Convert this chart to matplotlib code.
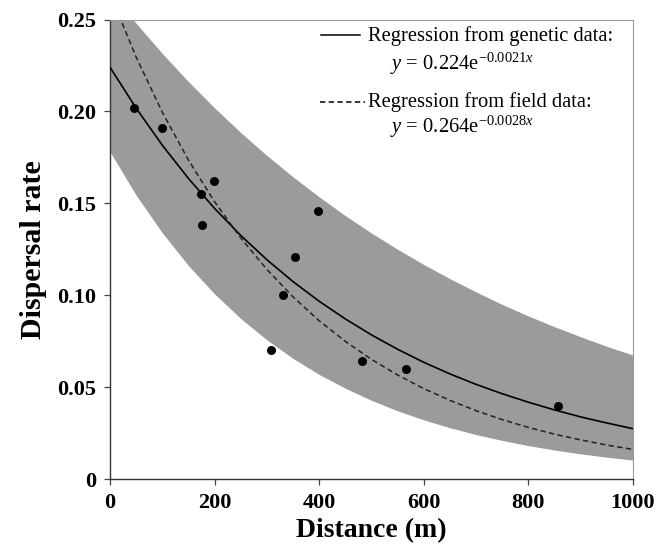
import numpy as np
import matplotlib
matplotlib.use("Agg")
import matplotlib.pyplot as plt

plt.rcParams['font.family'] = ['Liberation Serif', 'DejaVu Serif']
plt.rcParams['mathtext.fontset'] = 'custom'
plt.rcParams['mathtext.rm'] = 'Liberation Serif'
plt.rcParams['mathtext.it'] = 'Liberation Serif:italic'

# observed dispersal rates
dist_obs = [46, 100, 174, 175, 199, 307, 330, 353, 398, 482, 566, 857]
rate_obs = [0.202, 0.191, 0.155, 0.138, 0.162, 0.070, 0.100, 0.121, 0.146, 0.064, 0.060, 0.040]

# curves every 50 m
dist_grid = [0, 50, 100, 150, 200, 250, 300, 350, 400, 450, 500,
             550, 600, 650, 700, 750, 800, 850, 900, 950, 1000]
genetic_fit = [0.2240, 0.2017, 0.1816, 0.1635, 0.1472, 0.1325, 0.1193, 0.1074, 0.0967, 0.0871, 0.0784,
               0.0706, 0.0635, 0.0572, 0.0515, 0.0464, 0.0418, 0.0376, 0.0338, 0.0305, 0.0274]
field_fit = [0.2640, 0.2295, 0.1995, 0.1735, 0.1508, 0.1311, 0.1140, 0.0991, 0.0861, 0.0749, 0.0651,
             0.0566, 0.0492, 0.0428, 0.0372, 0.0323, 0.0281, 0.0244, 0.0213, 0.0185, 0.0161]
band_upper = [0.2655, 0.2479, 0.2315, 0.2162, 0.2019, 0.1885, 0.1760, 0.1644, 0.1535, 0.1433, 0.1338,
              0.1250, 0.1167, 0.1090, 0.1018, 0.0950, 0.0887, 0.0829, 0.0774, 0.0722, 0.0675]
band_lower = [0.1780, 0.1544, 0.1339, 0.1161, 0.1007, 0.0873, 0.0757, 0.0656, 0.0569, 0.0494, 0.0428,
              0.0371, 0.0322, 0.0279, 0.0242, 0.0210, 0.0182, 0.0158, 0.0137, 0.0119, 0.0103]

x_ticks = [0, 200, 400, 600, 800, 1000]
y_ticks = [0, 0.05, 0.10, 0.15, 0.20, 0.25]
y_tick_labels = ['0', '0.05', '0.10', '0.15', '0.20', '0.25']

fig = plt.figure(figsize=(6.67, 5.5), dpi=100)
ax = fig.add_axes([0.165, 0.129, 0.784, 0.8355])

ax.fill_between(dist_grid, band_lower, band_upper, color='#9b9b9b', lw=0, zorder=1)
ax.plot(dist_grid, genetic_fit, color='black', lw=1.2, zorder=3)
ax.plot(dist_grid, field_fit, color='#222222', lw=1.1, ls=(0, (3.5, 2.2)), zorder=3)
ax.scatter(dist_obs, rate_obs, s=42, color='black', zorder=4, lw=0)

ax.set_xlim(0, 1000)
ax.set_ylim(0, 0.25)
ax.set_xticks(x_ticks)
ax.set_yticks(y_ticks)
ax.set_yticklabels(y_tick_labels)
ax.tick_params(direction='out', length=4, width=0.9, labelsize=16, pad=6, color='#444444')
for lab in ax.get_xticklabels() + ax.get_yticklabels():
    lab.set_fontweight('bold')

for side in ['left', 'bottom']:
    ax.spines[side].set_color('#333333')
    ax.spines[side].set_linewidth(1.0)
for side in ['top', 'right']:
    ax.spines[side].set_color('#9a9a9a')
    ax.spines[side].set_linewidth(0.8)

ax.set_xlabel('Distance (m)', fontsize=20, fontweight='bold', labelpad=4)
ax.set_ylabel('Dispersal rate', fontsize=21.5, fontweight='bold', labelpad=7)

# legend drawn as text, like the original
ax.plot([0.404, 0.478], [0.966, 0.966], color='black', lw=1.1, transform=ax.transAxes)
ax.text(0.494, 0.954, 'Regression from genetic data:', fontsize=14.8,
        transform=ax.transAxes, va='baseline', ha='left')
ax.text(0.535, 0.890, r'$y$ = 0.224e$^{\mathrm{-0.0021}x}$', fontsize=14.8,
        transform=ax.transAxes, va='baseline', ha='left')
ax.plot([0.4015, 0.4875], [0.821, 0.821], color='black', lw=1.1,
        ls=(0, (3.5, 2.2)), transform=ax.transAxes)
ax.text(0.494, 0.809, 'Regression from field data:', fontsize=14.8,
        transform=ax.transAxes, va='baseline', ha='left')
ax.text(0.535, 0.754, r'$y$ = 0.264e$^{\mathrm{-0.0028}x}$', fontsize=14.8,
        transform=ax.transAxes, va='baseline', ha='left')

fig.savefig('out.png', dpi=100)
